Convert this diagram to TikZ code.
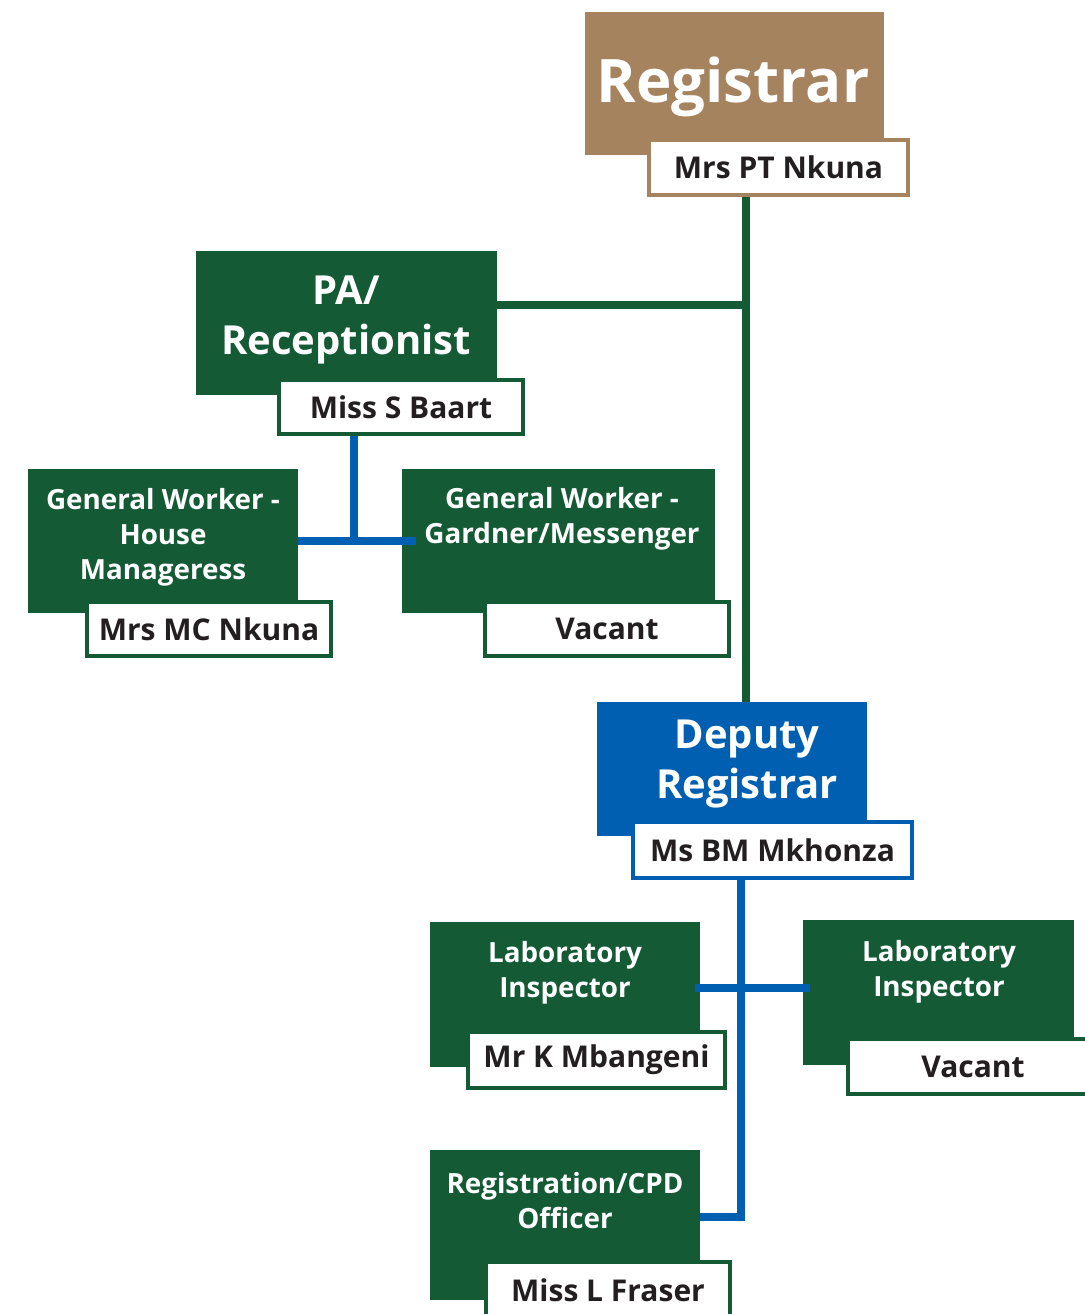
\documentclass[tikz,border=0pt]{standalone}
\usepackage{fontspec}
\setmainfont{Open Sans}
\usepackage{xcolor}
\usepackage{tikz}

\definecolor{regbrown}{HTML}{A6835F}
\definecolor{orggreen}{HTML}{135A35}
\definecolor{orgblue}{HTML}{005FB1}
\definecolor{namegrey}{HTML}{231F20}

\tikzset{
	post/.style={rectangle, inner sep=0pt, draw=none},
	titletext/.style={text=white, align=center, font=\bfseries\fontsize{27.8}{35}\selectfont},
	bigtext/.style={text=white, align=center, font=\bfseries\fontsize{40}{50}\selectfont},
	namebox/.style={rectangle, fill=white, line width=4pt, inner sep=0pt, text=namegrey,
		font=\bfseries\fontsize{30}{36}\selectfont},
	gline/.style={orggreen, line width=8pt},
	bline/.style={orgblue, line width=8pt}
}

\begin{document}
\begin{tikzpicture}[x=1pt,y=-1pt]
	\useasboundingbox (0,0) rectangle (1084,1314);

	% Registrar
	\node[post, fill=regbrown, minimum width=299pt, minimum height=143pt] (reg) at (734.5,83.5) {};
	\node[text=white, font=\bfseries\fontsize{60}{70}\selectfont] (regT) at (733,87) {Registrar};
	\node[namebox, draw=regbrown, minimum width=259pt, minimum height=55pt] (regN) at (778.5,167.5) {Mrs PT Nkuna};

	% PA / Receptionist
	\node[post, fill=orggreen, minimum width=301pt, minimum height=144pt] (pa) at (346.5,323) {};
	\node[bigtext] (paT) at (346,320) {PA/\\Receptionist};
	\node[namebox, draw=orggreen, minimum width=244pt, minimum height=54pt] (paN) at (401,407) {Miss S Baart};

	% general workers
	\node[post, fill=orggreen, minimum width=270pt, minimum height=144pt] (gwh) at (163,541) {};
	\node[titletext] (gwhT) at (163,537) {General Worker -\\House\\Manageress};
	\node[namebox, draw=orggreen, minimum width=244pt, minimum height=54pt] (gwhN) at (209,629) {Mrs MC Nkuna};

	\node[post, fill=orggreen, minimum width=313pt, minimum height=144pt] (gwg) at (558.5,541) {};
	\node[titletext] (gwgT) at (562,519) {General Worker -\\Gardner/Messenger};
	\node[namebox, draw=orggreen, minimum width=244pt, minimum height=54pt] (gwgN) at (607,629) {Vacant};

	% Deputy Registrar
	\node[post, fill=orgblue, minimum width=270pt, minimum height=134pt] (dep) at (732,769) {};
	\node[bigtext] (depT) at (747,764) {Deputy\\Registrar};
	\node[namebox, draw=orgblue, minimum width=279pt, minimum height=56pt] (depN) at (772.5,850) {Ms BM Mkhonza};

	% laboratory inspectors
	\node[post, fill=orggreen, minimum width=270pt, minimum height=145pt] (lab1) at (565,994.5) {};
	\node[titletext] (lab1T) at (565,972.5) {Laboratory\\Inspector};
	\node[namebox, draw=orggreen, minimum width=257pt, minimum height=56pt] (lab1N) at (596.5,1060) {Mr K Mbangeni};

	\node[post, fill=orggreen, minimum width=271pt, minimum height=145pt] (lab2) at (938.5,992.5) {};
	\node[titletext] (lab2T) at (939,972) {Laboratory\\Inspector};
	\node[namebox, draw=orggreen, minimum width=250pt, minimum height=55pt] (lab2N) at (973,1066.5) {Vacant};

	% Registration/CPD
	\node[post, fill=orggreen, minimum width=270pt, minimum height=150pt] (cpd) at (565,1225) {};
	\node[titletext] (cpdT) at (565,1201) {Registration/CPD\\Officer};
	\node[namebox, draw=orggreen, minimum width=244pt, minimum height=56pt] (cpdN) at (608,1290) {Miss L Fraser};

	% lines
	\coordinate (trunk) at (746,305);
	\coordinate (gwJ) at (354,541);
	\coordinate (labJ) at (741,988);
	\coordinate (cpdJ) at (741,1217);

	\draw[gline] (regN.south -| trunk) -- (dep.north -| trunk);
	\draw[gline] (trunk -| pa.east) -- (trunk);

	\draw[bline] (paN.south -| gwJ) -- (gwJ);
	\draw[bline] (gwJ -| gwh.east) -- ([xshift=14pt]gwJ -| gwg.west);

	\draw[bline] (depN.south -| cpdJ) -- (cpdJ) -- (cpdJ -| cpd.east);
	\draw[bline] ([xshift=-5pt]labJ -| lab1.east) -- ([xshift=7pt]labJ -| lab2.west);
\end{tikzpicture}
\end{document}
